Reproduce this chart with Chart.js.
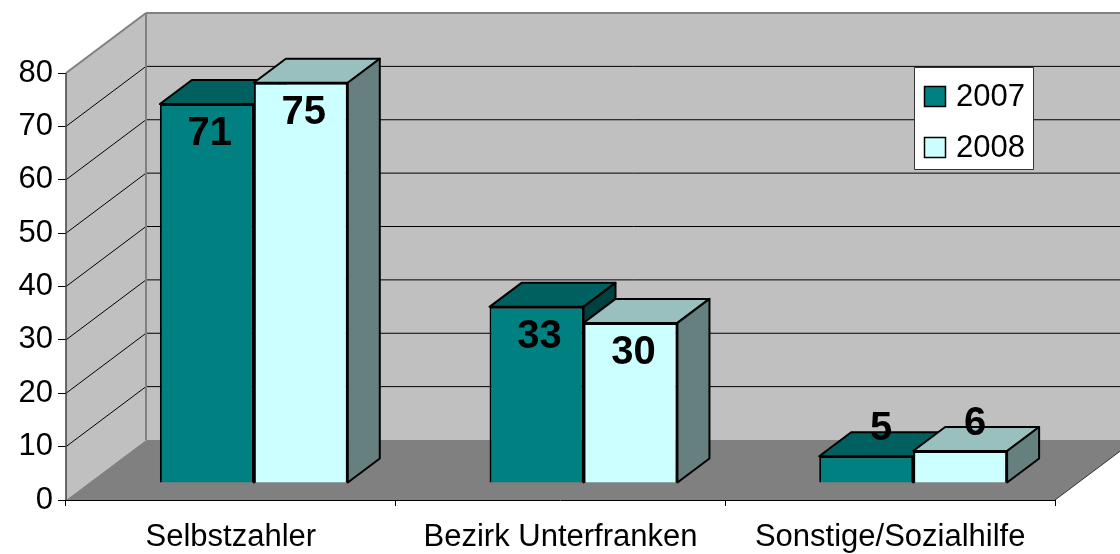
<!DOCTYPE html>
<html>
<head>
<meta charset="utf-8">
<script src="https://cdn.jsdelivr.net/npm/chart.js@4/dist/chart.umd.min.js"></script>
<style>
html, body { margin:0; padding:0; background:#fff; }
#wrap { width:1120px; height:554px; }
</style>
</head>
<body>
<div id="wrap"><canvas id="c" width="1120" height="554"></canvas></div>
<script>
const categories = ["Selbstzahler", "Bezirk Unterfranken", "Sonstige/Sozialhilfe"];
const years = ["2007", "2008"];
const values2007 = [71, 33, 5];
const values2008 = [75, 30, 6];
const yMin = 0, yMax = 80, yStep = 10;

const FONT = "'Liberation Sans', Arial, sans-serif";

// 3d look
const DX = 80, DY = -60;     // depth of walls / floor
const BX = 23, BY = -17;     // bars sit a bit behind the front axis
const BDX = 32, BDY = -24;   // depth of one bar

function shade(hex, f){
    let n = parseInt(hex.slice(1), 16);
    let r = Math.round(((n >> 16) & 255) * f);
    let g = Math.round(((n >> 8) & 255) * f);
    let b = Math.round((n & 255) * f);
    return "rgb(" + r + "," + g + "," + b + ")";
}

function poly(ctx, pts, fill, stroke, lw){
    ctx.beginPath();
    ctx.moveTo(pts[0][0], pts[0][1]);
    for (let i = 1; i < pts.length; i++) ctx.lineTo(pts[i][0], pts[i][1]);
    ctx.closePath();
    if (fill){ ctx.fillStyle = fill; ctx.fill(); }
    if (stroke){ ctx.strokeStyle = stroke; ctx.lineWidth = lw || 1; ctx.stroke(); }
}

function line(ctx, x1, y1, x2, y2, col, lw){
    ctx.beginPath();
    ctx.moveTo(x1, y1);
    ctx.lineTo(x2, y2);
    ctx.strokeStyle = col;
    ctx.lineWidth = lw || 1;
    ctx.stroke();
}

const walls = {
    id: 'walls',
    beforeDatasetsDraw: (chart)=>{
        const {ctx, chartArea} = chart;
        const ys = chart.scales.y;
        const L = chartArea.left, R = chartArea.right;
        const y0 = ys.getPixelForValue(yMin), yT = ys.getPixelForValue(yMax);
        ctx.save();
        // back wall
        poly(ctx, [[L+DX, yT+DY], [R+DX, yT+DY], [R+DX, y0+DY], [L+DX, y0+DY]], "#C0C0C0");
        // side wall
        poly(ctx, [[L, yT], [L+DX, yT+DY], [L+DX, y0+DY], [L, y0]], "#C0C0C0");
        // floor
        poly(ctx, [[L, y0], [R, y0], [R+DX, y0+DY], [L+DX, y0+DY]], "#808080");

        // gridlines
        for (let v = yMin + yStep; v < yMax; v += yStep){
            let y = ys.getPixelForValue(v);
            line(ctx, L, y, L+DX, y+DY, "#000", 1);
            line(ctx, L+DX, y+DY, R+DX, y+DY, "#000", 1);
        }
        // wall edges
        line(ctx, L, yT, L+DX, yT+DY, "#808080", 2);
        line(ctx, L+DX, yT+DY, R+DX+2, yT+DY, "#808080", 2);
        line(ctx, L+DX, yT+DY, L+DX, y0+DY, "#808080", 2);
        line(ctx, L, yT, L, y0, "#404040", 1.5);
        // floor edges
        line(ctx, R, y0, R+DX, y0+DY, "#333", 1);
        line(ctx, L, y0+0.5, R, y0+0.5, "#000", 1);
        ctx.restore();
    },
    // bars are drawn below, series by series, left to right
    beforeDatasetDraw: ()=> false,
    afterDatasetsDraw: (chart)=>{
        const ctx = chart.ctx;
        ctx.save();
        ctx.translate(BX, BY);
        ctx.lineJoin = "round";
        chart.data.datasets.forEach((ds, i)=>{
            const col = ds.backgroundColor;
            chart.getDatasetMeta(i).data.forEach((el)=>{
                el.draw(ctx);
                const p = el.getProps(['x', 'y', 'base', 'width'], true);
                const l = p.x - p.width/2, r = p.x + p.width/2;
                poly(ctx, [[l, p.y], [r, p.y], [r+BDX, p.y+BDY], [l+BDX, p.y+BDY]], shade(col, 0.75), "#000", 2);
                poly(ctx, [[r, p.y], [r+BDX, p.y+BDY], [r+BDX, p.base+BDY], [r, p.base]], shade(col, 0.5), "#000", 2);
            });
        });

        // value labels
        ctx.font = "bold 40px " + FONT;
        ctx.fillStyle = "#000";
        ctx.textAlign = "center";
        ctx.textBaseline = "middle";
        chart.data.datasets.forEach((ds, i)=>{
            chart.getDatasetMeta(i).data.forEach((el, j)=>{
                const p = el.getProps(['x', 'y', 'base'], true);
                if (p.base - p.y > 60) ctx.fillText(ds.data[j], p.x + 3, p.y + 30);
                else ctx.fillText(ds.data[j], p.x + 15, p.y - 27);
            });
        });
        ctx.restore();
    },
    afterDraw: (chart)=>{
        // legend box
        const ctx = chart.ctx;
        ctx.save();
        poly(ctx, [[914.5, 67.5], [1033.5, 67.5], [1033.5, 169.5], [914.5, 169.5]], "#fff", "#333", 1);
        ctx.font = "31px " + FONT;
        ctx.textAlign = "left";
        ctx.textBaseline = "middle";
        chart.data.datasets.forEach((ds, i)=>{
            let cy = 96.5 + i * 51;
            poly(ctx, [[924.5, cy-10], [945.5, cy-10], [945.5, cy+10], [924.5, cy+10]], ds.backgroundColor, "#000", 1.5);
            ctx.fillStyle = "#000";
            ctx.fillText(ds.label, 956, cy + 1);
        });
        ctx.restore();
    }
};

new Chart(document.getElementById('c'), {
    type: 'bar',
    data: {
        labels: categories,
        datasets: [
            { label: years[0], data: values2007, backgroundColor: "#008080", borderColor: "#000", borderWidth: 2 },
            { label: years[1], data: values2008, backgroundColor: "#CCFFFF", borderColor: "#000", borderWidth: 2 }
        ]
    },
    options: {
        responsive: false,
        devicePixelRatio: 1,
        animation: false,
        layout: { padding: { top: 73, right: 65, left: 0, bottom: 0 } },
        datasets: { bar: { barPercentage: 1.0, categoryPercentage: 0.57 } },
        scales: {
            y: {
                min: yMin, max: yMax,
                ticks: { stepSize: yStep, color: "#000", padding: 5, font: { family: FONT, size: 31 } },
                grid: { drawOnChartArea: false, tickLength: 8, color: "#000" },
                border: { display: false },
                afterFit: (s)=>{ s.width = 66; }
            },
            x: {
                ticks: { color: "#000", padding: 13, font: { family: FONT, size: 31 } },
                grid: { drawOnChartArea: false, tickLength: 6, color: "#000" },
                border: { display: false },
                afterFit: (s)=>{ s.height = 54; }
            }
        },
        plugins: {
            legend: { display: false },
            tooltip: { enabled: false }
        }
    },
    plugins: [walls]
});
</script>
</body>
</html>
